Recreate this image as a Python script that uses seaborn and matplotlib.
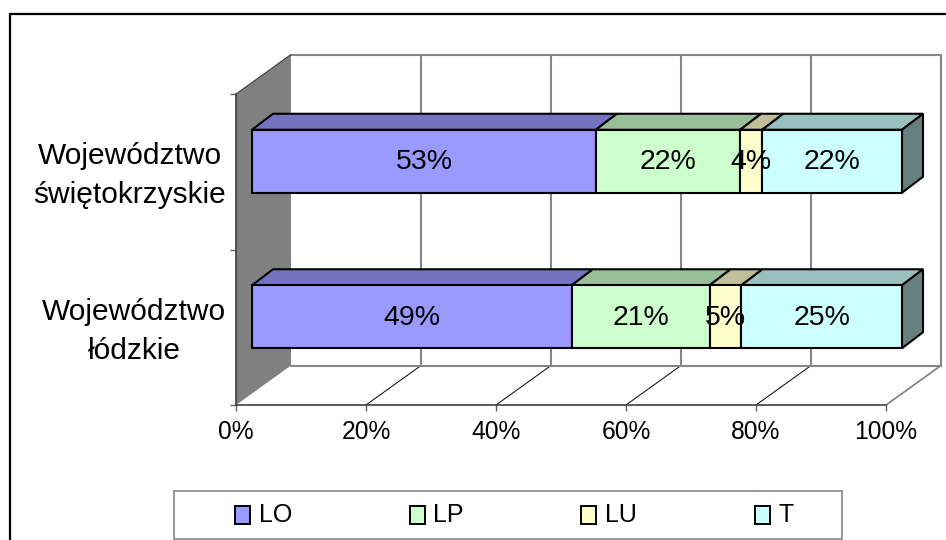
import matplotlib
matplotlib.use('Agg')
import matplotlib.pyplot as plt
import matplotlib.transforms as mtrans
from matplotlib.legend_handler import HandlerPatch
from matplotlib.lines import Line2D
from matplotlib.patches import Patch, Rectangle
import numpy as np
import pandas as pd
import seaborn as sns

# values, labels as printed on the bars
regions = ['Województwo\nświętokrzyskie', 'Województwo\nłódzkie']
series = ['LO', 'LP', 'LU', 'T']
lo = [52.9, 49.2]
lp = [22.2, 21.2]
lu = [3.4, 4.9]
t = [21.5, 24.7]
lo_labels = ['53%', '49%']
lp_labels = ['22%', '21%']
lu_labels = ['4%', '5%']
t_labels = ['22%', '25%']
x_ticks = [0, 20, 40, 60, 80, 100]

colors = ['#9999FF', '#CCFFCC', '#FFFFCC', '#CCFFFF']
tops = ['#7373BF', '#99BF99', '#BFBF99', '#99BFBF']
side = '#668080'
grey = '#868686'

W, H = 946, 540
sns.set_theme(style='white')
plt.rcParams['font.family'] = ['Liberation Sans', 'DejaVu Sans']

fig = plt.figure(figsize=(W / 100, H / 100), dpi=100)
# axes = front plane of the 3d box
left, right, top, bottom = 236, 886, 94, 405
ax = fig.add_axes([left / W, 1 - bottom / H, (right - left) / W, (bottom - top) / H])

px_x = 100 / (right - left)
px_y = 2 / (bottom - top)

# bars sit part way into the box
bar_tf = ax.transData + mtrans.ScaledTranslation(16 / 100, 10.5 / 100, fig.dpi_scale_trans)

df = pd.DataFrame({'region': regions, 'LO': lo, 'LP': lp, 'LU': lu, 'T': t})
labels = [lo_labels, lp_labels, lu_labels, t_labels]
bar_h = 0.405
depth_x = 21 * px_x
depth_y = 16 * px_y
wall_x = 55 * px_x
wall_y = 39.5 * px_y

# box: wall, back plane, floor
ax.fill([0, wall_x, wall_x, 0], [-0.5, -0.5 - wall_y, 1.5 - wall_y, 1.5],
        color='#808080', lw=0, zorder=1, clip_on=False)
for v in x_ticks[1:]:
    ax.plot([v + wall_x, v + wall_x], [-0.5 - wall_y, 1.5 - wall_y], color=grey, lw=1.5,
            zorder=1, clip_on=False)
    ax.plot([v, v + wall_x], [1.5, 1.5 - wall_y], color=grey if v == 100 else 'black',
            lw=1.3 if v == 100 else 0.7, zorder=1, clip_on=False)
ax.plot([wall_x, 100 + wall_x], [-0.5 - wall_y, -0.5 - wall_y], color=grey, lw=1.5, zorder=1, clip_on=False)
ax.plot([wall_x, 100 + wall_x], [1.5 - wall_y, 1.5 - wall_y], color=grey, lw=1.5, zorder=1, clip_on=False)
ax.plot([0, wall_x], [-0.5, -0.5 - wall_y], color='#404040', lw=0.8, zorder=1, clip_on=False)

# stacked bars, one seaborn call per series
start = np.zeros(len(regions))
for i, name in enumerate(series):
    sns.barplot(data=df, y='region', x=name, ax=ax, orient='y', color=colors[i], saturation=1,
                left=start, width=bar_h, edgecolor='black', linewidth=1.5, transform=bar_tf,
                zorder=4, clip_on=False)
    end = start + df[name].values
    for j in range(len(regions)):
        y0 = j - bar_h / 2
        ax.fill([start[j], end[j], end[j] + depth_x, start[j] + depth_x],
                [y0, y0, y0 - depth_y, y0 - depth_y],
                facecolor=tops[i], edgecolor='black', lw=1.5, transform=bar_tf, zorder=3,
                clip_on=False)
        if i == len(series) - 1:
            y1 = j + bar_h / 2
            ax.fill([end[j], end[j] + depth_x, end[j] + depth_x, end[j]],
                    [y0, y0 - depth_y, y1 - depth_y, y1],
                    facecolor=side, edgecolor='black', lw=1.5, transform=bar_tf, zorder=3,
                    clip_on=False)
        ax.text((start[j] + end[j]) / 2, j + 0.005, labels[i][j], ha='center', va='center',
                fontsize=20.5, color='black', transform=bar_tf, zorder=6)
    start = end

ax.set_xlim(0, 100)
ax.set_ylim(1.5, -0.5)
ax.set_xlabel('')
ax.set_ylabel('')
ax.patch.set_alpha(0)
sns.despine(ax=ax, top=True, right=True)
for s in ['left', 'bottom']:
    ax.spines[s].set_color('#404040')
    ax.spines[s].set_linewidth(1.2)
    ax.spines[s].set_zorder(2)
ax.set_xticks(x_ticks)
ax.set_xticklabels([f'{v}%' for v in x_ticks], fontsize=17.7, color='black')
ax.set_yticks([-0.5, 0.5, 1.5])
ax.set_yticklabels(['', '', ''])
ax.set_yticks([0, 1], labels=regions, minor=True, fontsize=21.5, color='black', multialignment='center',
              linespacing=1.5)
ax.tick_params(axis='both', which='major', length=4.5, width=1, color='#606060', left=True, bottom=True, pad=6)
ax.tick_params(axis='y', which='minor', length=0, left=False, pad=7)
# region labels sit a little above the band centres
up = mtrans.ScaledTranslation(0, 4.5 / 100, fig.dpi_scale_trans)
for lab in ax.get_yticklabels(minor=True):
    lab.set_transform(lab.get_transform() + up)

# outer frame, cut off by the image on the right and at the bottom
fig.add_artist(Line2D([10 / W, 10 / W], [0, 1 - 14 / H], color='black', lw=1.6))
fig.add_artist(Line2D([10 / W, 1], [1 - 14 / H, 1 - 14 / H], color='black', lw=1.6))

# legend box
fig.add_artist(Rectangle((174 / W, 1 - 539 / H), 668 / W, 48 / H, transform=fig.transFigure,
                         facecolor='white', edgecolor=grey, lw=1.2))
handles = [Patch(facecolor=c, edgecolor='black', lw=1.4) for c in colors]
leg = fig.legend(handles, series, loc='center left', bbox_to_anchor=(235 / W, 1 - 515 / H),
                 ncol=4, frameon=False, fontsize=18, handlelength=0.6, handleheight=0.45,
                 handletextpad=0.35, columnspacing=4.7, borderpad=0, borderaxespad=0,
                 handler_map={Patch: HandlerPatch(ypad=-0.15)})
leg.set_zorder(5)
for txt in leg.get_texts():
    txt.set_color('black')

fig.savefig('out.png', dpi=100, facecolor='white')
